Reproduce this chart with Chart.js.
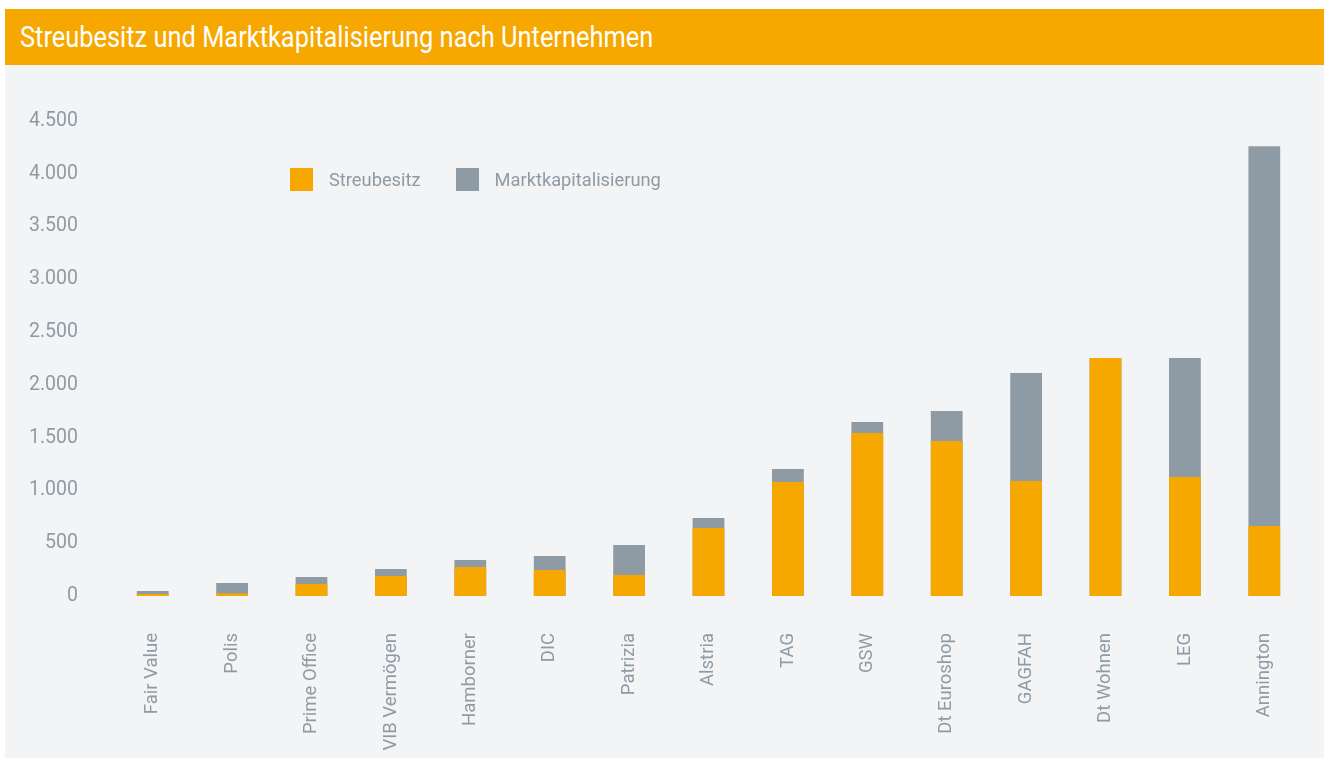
<!DOCTYPE html>
<html>
<head>
<meta charset="utf-8">
<script src="https://cdn.jsdelivr.net/npm/chart.js@4.4.0/dist/chart.umd.min.js"></script>
<style>
  html, body { margin: 0; padding: 0; background: #ffffff; width: 1324px; height: 760px; overflow: hidden; }
  #titlebar { position: absolute; left: 5px; top: 9px; width: 1319px; height: 56px; background: #F6A800; }
  #titletext { position: absolute; left: 15px; top: 0; color: #ffffff; font-family: "Roboto", sans-serif; font-size: 30px;
    line-height: 56px; white-space: nowrap; transform: scaleX(0.847); transform-origin: 0 50%; }
  #panel { position: absolute; left: 5px; top: 65px; width: 1319px; height: 693px; background: #F3F4F6; }
  #chart { position: absolute; left: 0; top: 0; }
  #legend { position: absolute; left: 285px; top: 103px; font-family: "Roboto", sans-serif;
    font-size: 18.3px; color: #8F9BA4; white-space: nowrap; }
  .li { display: inline-flex; align-items: center; margin-right: 35px; }
  .sw { width: 23px; height: 23px; display: inline-block; margin-right: 16px; }
</style>
</head>
<body>
<div id="titlebar"><span id="titletext">Streubesitz und Marktkapitalisierung nach Unternehmen</span></div>
<div id="panel">
  <canvas id="chart" width="1319" height="693"></canvas>
  <div id="legend"></div>
</div>
<script>
const categories = ["Fair Value", "Polis", "Prime Office", "VIB Vermögen", "Hamborner", "DIC", "Patrizia",
  "Alstria", "TAG", "GSW", "Dt Euroshop", "GAGFAH", "Dt Wohnen", "LEG", "Annington"];
const streubesitz = [20, 25, 114, 190, 275, 246, 199, 644, 1080, 1544, 1468, 1089, 2254, 1127, 663];
const marktkapitalisierung = [47, 123, 180, 256, 341, 379, 483, 739, 1203, 1648, 1752, 2112, 2254, 2254, 4261];
const yTicks = [0, 500, 1000, 1500, 2000, 2500, 3000, 3500, 4000, 4500];
const seriesNames = ["Streubesitz", "Marktkapitalisierung"];
const seriesColors = ["#F6A800", "#8F9BA4"];

const FONT = '"Roboto", sans-serif';

function fmt(v) {
  return String(v).replace(/\B(?=(\d{3})+(?!\d))/g, ".");
}

const ctx = document.getElementById('chart').getContext('2d');
new Chart(ctx, {
  type: 'bar',
  data: {
    labels: categories,
    datasets: [
      { label: seriesNames[0], data: streubesitz, backgroundColor: seriesColors[0], borderWidth: 0,
        barPercentage: 0.4, categoryPercentage: 1.0 },
      { label: seriesNames[1], data: marktkapitalisierung, backgroundColor: seriesColors[1], borderWidth: 0,
        barPercentage: 0.4, categoryPercentage: 1.0 }
    ]
  },
  options: {
    responsive: false,
    animation: false,
    layout: { padding: { top: 56, right: 15, left: 0, bottom: 0 } },
    plugins: { legend: { display: false }, tooltip: { enabled: false }, title: { display: false } },
    scales: {
      x: {
        stacked: true,
        grid: { display: false, drawTicks: false },
        border: { display: false },
        ticks: { color: '#8F9BA4', font: { family: FONT, size: 18.5 }, maxRotation: 90, minRotation: 90, padding: 37, autoSkip: false },
        afterFit: (s) => { s.height = 162; }
      },
      y: {
        stacked: false,
        min: 0, max: 4500,
        afterBuildTicks: (s) => { s.ticks = yTicks.map(v => ({ value: v })); },
        grid: { display: false, drawTicks: false },
        border: { display: false },
        ticks: { color: '#8F9BA4', font: { family: FONT, size: 19.5 }, padding: 35, callback: (v) => fmt(v) },
        afterFit: (s) => { s.width = 108; }
      }
    }
  }
});

const lg = document.getElementById('legend');
seriesNames.forEach((n, i) => {
  const item = document.createElement('span');
  item.className = 'li';
  const sw = document.createElement('span');
  sw.className = 'sw';
  sw.style.background = seriesColors[i];
  item.appendChild(sw);
  item.appendChild(document.createTextNode(n));
  lg.appendChild(item);
});
</script>
</body>
</html>
